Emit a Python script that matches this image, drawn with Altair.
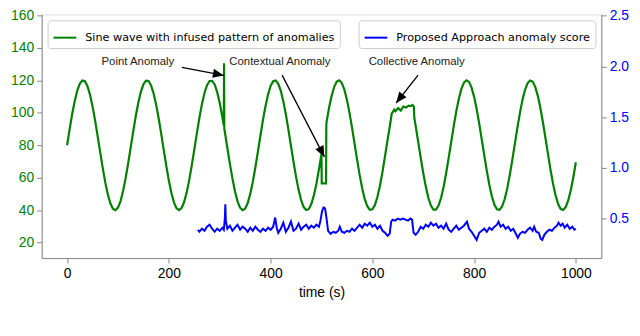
import altair as alt
import pandas as pd

# ---------------- data ----------------
# sine wave sampled every 5 s
wave_t = [5 * k for k in range(201)]
wave_v = [
    80.0, 89.9, 99.2, 107.3, 113.7, 118.0, 119.9, 119.4, 116.4, 111.1, 103.9, 95.3, 85.6, 75.7, 66.0, 57.1, 49.7, 44.2, 40.9, 40.0, 41.6, 45.6, 51.8, 59.7, 68.8,
    78.7, 88.6, 98.0, 106.3, 112.9, 117.5, 119.8, 119.6, 116.9, 111.9, 105.0, 96.5, 87.0, 77.0, 67.2, 58.2, 50.6, 44.8, 41.2, 40.0, 41.3, 45.0, 50.8, 58.5, 67.6,
    77.3, 87.3, 96.8, 105.3, 112.2, 117.0, 119.6, 119.7, 117.4, 112.7, 106.0, 97.7, 88.3, 78.3, 68.5, 59.4, 51.5, 45.4, 41.5, 40.0, 40.9, 44.4, 50.0, 57.4, 66.3,
    76.0, 86.0, 95.6, 104.2, 111.3, 116.5, 119.4, 119.9, 117.8, 113.5, 107.0, 98.9, 89.6, 79.6, 69.8, 60.5, 52.5, 46.2, 41.9, 40.1, 40.6, 43.8, 49.1, 56.3, 65.1,
    74.7, 84.7, 94.4, 103.2, 110.5, 116.0, 119.2, 120.0, 118.3, 114.2, 108.0, 100.1, 90.8, 81.0, 71.1, 61.7, 53.5, 46.8, 42.4, 40.2, 40.5, 43.2, 48.2, 55.2, 63.8,
    73.4, 83.4, 93.1, 102.1, 109.6, 115.4, 118.9, 120.0, 118.6, 114.8, 108.9, 101.2, 92.1, 82.3, 72.4, 62.9, 54.5, 47.6, 42.8, 40.3, 40.3, 42.8, 47.5, 54.3, 62.7,
    72.2, 82.0, 91.9, 100.9, 108.7, 114.7, 118.6, 120.0, 119.0, 115.5, 109.8, 102.3, 93.4, 83.6, 73.7, 64.1, 55.5, 48.4, 43.3, 40.5, 40.2, 42.3, 46.7, 53.1, 61.5,
    70.8, 80.7, 90.6, 99.8, 107.8, 114.0, 118.2, 119.9, 119.2, 116.1, 110.7, 103.4, 94.6, 84.9, 75.0, 65.3, 56.5, 49.3, 43.9, 40.8, 40.1, 41.9, 46.0, 52.3, 60.3,
    69.5,
]

# anomaly segments
point_t = [308, 308.5, 309]
point_v = [92.1, 130.5, 90.2]
context_t = [500, 500.5, 509, 509.5]
context_v = [74.7, 56.5, 56.5, 92.5]
collective_t = [638, 639, 643, 645.4, 650.6, 655.8, 660.9, 666, 671.3, 675, 679, 681.5, 682.5]
collective_v = [99.4, 99.9, 101.9, 100.9, 102.9, 101.3, 103.8, 103.2, 104.4, 104.1, 104.8, 103.8, 96.8]

# anomaly score
score_t = [257, 260, 265, 270, 275, 280, 285, 290, 295, 300, 305, 308, 310, 311, 312, 315,
           320, 325, 330, 335, 340, 345, 350, 355, 360, 365, 370, 375, 380, 385, 390, 395,
           400, 405, 409, 412, 415, 420, 425, 430, 435, 440, 445, 450, 455, 460, 465, 470,
           475, 480, 485, 490, 495, 498, 501, 504, 507, 510, 513, 518, 523, 528, 533, 536,
           540, 545, 550, 555, 560, 565, 570, 575, 580, 585, 590, 595, 600, 605, 610, 615,
           620, 625, 630, 634, 637, 640, 645, 650, 655, 660, 665, 670, 675, 678, 681, 685,
           690, 695, 700, 705, 710, 715, 720, 725, 730, 735, 740, 745, 750, 755, 760, 765,
           770, 775, 780, 786, 790, 795, 800, 805, 810, 815, 820, 825, 830, 835, 840, 845,
           848, 852, 857, 862, 867, 872, 877, 882, 886, 890, 895, 900, 905, 910, 915, 918,
           922, 927, 931, 934, 938, 943, 948, 953, 958, 963, 966, 970, 974, 978, 983, 988,
           993, 997, 1000]
score_v = [0.39, 0.37, 0.40, 0.38, 0.42, 0.44, 0.40, 0.37, 0.40, 0.38, 0.41, 0.39, 0.50, 0.64, 0.48, 0.40,
           0.43, 0.38, 0.41, 0.44, 0.39, 0.42, 0.40, 0.37, 0.41, 0.38, 0.42, 0.39, 0.37, 0.40, 0.38, 0.41,
           0.39, 0.42, 0.51, 0.41, 0.36, 0.40, 0.46, 0.37, 0.41, 0.47, 0.38, 0.40, 0.45, 0.39, 0.42, 0.44,
           0.40, 0.43, 0.41, 0.44, 0.42, 0.48, 0.57, 0.61, 0.60, 0.50, 0.38, 0.35, 0.37, 0.36, 0.38, 0.42,
           0.37, 0.36, 0.38, 0.37, 0.40, 0.38, 0.41, 0.44, 0.41, 0.45, 0.43, 0.46, 0.42, 0.44, 0.40, 0.43,
           0.38, 0.36, 0.33, 0.35, 0.47, 0.49, 0.48, 0.50, 0.49, 0.50, 0.49, 0.48, 0.50, 0.49, 0.36, 0.34,
           0.37, 0.42, 0.40, 0.44, 0.42, 0.46, 0.43, 0.45, 0.41, 0.43, 0.40, 0.45, 0.39, 0.37, 0.40, 0.43,
           0.39, 0.41, 0.43, 0.47, 0.40, 0.37, 0.33, 0.29, 0.36, 0.38, 0.40, 0.37, 0.41, 0.39, 0.42, 0.44,
           0.47, 0.42, 0.44, 0.40, 0.42, 0.38, 0.40, 0.35, 0.31, 0.35, 0.37, 0.36, 0.39, 0.41, 0.38, 0.42,
           0.37, 0.36, 0.30, 0.29, 0.34, 0.37, 0.39, 0.38, 0.41, 0.43, 0.46, 0.43, 0.45, 0.41, 0.44, 0.40,
           0.42, 0.39, 0.40]

series_wave = "Sine wave with infused pattern of anomalies"
series_score = "Proposed Approach anomaly score"

ann_labels = ["Point Anomaly", "Contextual Anomaly", "Collective Anomaly"]
ann_x = [67.6, 318.8, 592.7]
ann_y = [129.6, 129.6, 129.6]
arrow_x0 = [225.5, 422.6, 689.9]
arrow_y0 = [128.0, 123.2, 123.2]
arrow_x1 = [308.0, 505.7, 646.8]
arrow_y1 = [123.0, 72.8, 106.0]
arrow_angle = [101, 153, 218]

x_ticks = [0, 200, 400, 600, 800, 1000]
yl_ticks = [20, 40, 60, 80, 100, 120, 140, 160]
yr_ticks = [0.5, 1.0, 1.5, 2.0, 2.5]

# ---------------- tables ----------------
windows = [(point_t[0], point_t[-1]), (context_t[0], context_t[-1]), (collective_t[0], collective_t[-1])]
rows = [(t, v) for t, v in zip(wave_t, wave_v) if not any(a <= t <= b for a, b in windows)]
rows += list(zip(point_t, point_v)) + list(zip(context_t, context_v)) + list(zip(collective_t, collective_v))
rows.sort()
wave_df = pd.DataFrame(rows, columns=["t", "v"])
wave_df["s"] = series_wave

score_df = pd.DataFrame({"t": score_t, "v": score_v, "s": series_score})
ann_df = pd.DataFrame({"label": ann_labels, "x": ann_x, "y": ann_y})
arrow_df = pd.DataFrame({"x0": arrow_x0, "y0": arrow_y0, "x1": arrow_x1, "y1": arrow_y1, "ang": arrow_angle})

# ---------------- scales / axes ----------------
FONT = "DejaVu Sans"
x_scale = alt.Scale(domain=[-50, 1050], nice=False, zero=False)
yl_scale = alt.Scale(domain=[10.5, 160.6], nice=False, zero=False)
yr_scale = alt.Scale(domain=[0.111, 2.514], nice=False, zero=False)

x_axis = alt.Axis(values=x_ticks, format="d", title="time (s)", grid=False, tickSize=5,
                  labelPadding=4, titlePadding=5, labelFontSize=14, titleFontSize=14,
                  titleFontWeight="normal", labelColor="black", titleColor="black")
yl_axis = alt.Axis(values=yl_ticks, format="d", title=None, grid=False, orient="left",
                   tickSize=5, labelPadding=3, labelFontSize=14, labelColor="green")
yr_axis = alt.Axis(values=yr_ticks, format=".1f", title=None, grid=False, orient="right",
                   tickSize=5, labelPadding=3, labelFontSize=14, labelColor="blue")


def X(f):
    return alt.X(f"{f}:Q", scale=x_scale, axis=x_axis)


def YL(f):
    return alt.Y(f"{f}:Q", scale=yl_scale, axis=yl_axis)


legend_common = dict(title=None, offset=6, padding=5, strokeColor="#cccccc", fillColor="#ffffff",
                     cornerRadius=3, labelFont=FONT, labelFontSize=11.3, labelColor="black",
                     labelLimit=400, symbolSize=529, symbolStrokeWidth=2, labelOffset=8)

wave = alt.Chart(wave_df).mark_line(strokeWidth=2.2).encode(
    x=X("t"), y=YL("v"),
    color=alt.Color("s:N", scale=alt.Scale(domain=[series_wave], range=["green"]),
                    legend=alt.Legend(orient="top-left", **legend_common)),
)

arrows = alt.Chart(arrow_df).mark_rule(color="black", strokeWidth=1.3).encode(
    x=X("x0"), y=YL("y0"), x2="x1:Q", y2="y1:Q"
)
heads = alt.Chart(arrow_df).mark_point(
    shape="M0,0L-0.42,1L0.42,1Z", size=484, filled=True, color="black", opacity=1, strokeWidth=0
).encode(x=X("x1"), y=YL("y1"), angle=alt.Angle("ang:Q", scale=None))

texts = alt.Chart(ann_df).mark_text(
    align="left", baseline="alphabetic", font="Liberation Sans", fontSize=11.5, color="#222222"
).encode(x=X("x"), y=YL("y"), text="label:N")

left = alt.layer(wave, arrows, heads, texts)

score = alt.Chart(score_df).mark_line(strokeWidth=2).encode(
    x=X("t"),
    y=alt.Y("v:Q", scale=yr_scale, axis=yr_axis),
    color=alt.Color("s:N", scale=alt.Scale(domain=[series_score], range=["blue"]),
                    legend=alt.Legend(orient="top-right", **legend_common)),
)

chart = alt.layer(left, score).resolve_scale(y="independent", color="independent").properties(
    width=565, height=246,
    padding={"left": 34, "top": 5, "right": 31, "bottom": 49},
    autosize=alt.AutoSizeParams(type="none"),
).configure_view(stroke="black", strokeWidth=1.5).configure_axis(
    labelFont=FONT, titleFont=FONT, domainColor="black", domainWidth=1.5,
    tickColor="black", tickWidth=1.2,
).configure(background="white")

chart.save("out.html", embed_options={"renderer": "svg", "actions": False})
